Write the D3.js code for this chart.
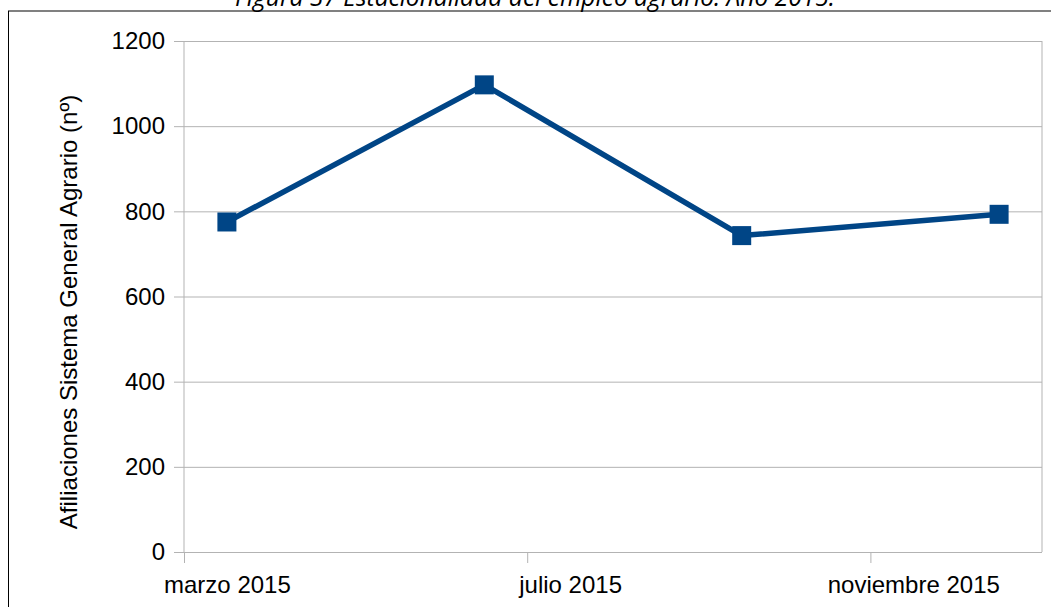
<!DOCTYPE html>
<html>
<head>
<meta charset="utf-8">
<script src="https://cdn.jsdelivr.net/npm/d3@7"></script>
<style>
  html, body { margin: 0; padding: 0; background: #fff; }
  svg { display: block; }
</style>
</head>
<body>
<svg id="chart" width="1051" height="607"></svg>
<script>
// Afiliaciones al Sistema General Agrario, 2015 (datos trimestrales)
const monthIndex = [2, 5, 8, 11];           // marzo, junio, septiembre, diciembre (0 = enero)
const afiliaciones = [775, 1097, 743, 793];
const yTicks = [0, 200, 400, 600, 800, 1000, 1200];
const xTickMonths = [2, 6, 10];
const xTickLabels = ["marzo 2015", "julio 2015", "noviembre 2015"];
const titleText = "Figura 37  Estacionalidad del empleo agrario. Año 2015.";
const yTitle = "Afiliaciones Sistema General Agrario (nº)";

const svg = d3.select("#chart");
const plot = { left: 184, right: 1042, top: 41, bottom: 552 };
const gridColor = "#b3b3b3";
const seriesColor = "#004586";
const font = "'Liberation Sans', Arial, sans-serif";

const x = d3.scaleLinear().domain([2, 12]).range([plot.left, plot.right]);
const y = d3.scaleLinear().domain([0, 1200]).range([plot.bottom, plot.top]);

// outer frame
svg.append("line").attr("x1", 8).attr("x2", 1051).attr("y1", 11).attr("y2", 11)
  .attr("stroke", "#808080").attr("stroke-width", 2);
svg.append("line").attr("x1", 8.5).attr("x2", 8.5).attr("y1", 11).attr("y2", 607)
  .attr("stroke", "#000").attr("stroke-width", 1);

// title
const title = svg.append("text")
  .attr("x", 535).attr("y", 6)
  .attr("text-anchor", "middle")
  .style("font-family", "'Open Sans', 'Noto Sans', sans-serif")
  .style("font-style", "italic")
  .style("font-size", "20px")
  .attr("fill", "#000")
  .text(titleText);
const tw = title.node().getComputedTextLength();
title.style("font-size", (20 * 600 / tw).toFixed(2) + "px");

// horizontal gridlines + y axis
const yAxis = d3.axisLeft(y).tickValues(yTicks).tickSize(10).tickPadding(9)
  .tickFormat(d3.format("d"));
const gY = svg.append("g").attr("transform", `translate(${plot.left},0)`).call(yAxis);
gY.select(".domain").remove();
gY.selectAll(".tick line").attr("stroke", gridColor).attr("x2", -10).attr("x1", plot.right - plot.left);
gY.selectAll(".tick text").style("font-family", font).style("font-size", "24px").attr("fill", "#000");

// x axis (month-start ticks, labels centred in the month)
const xAxis = d3.axisBottom(x).tickValues(xTickMonths).tickSize(11)
  .tickFormat((d, i) => xTickLabels[i]);
const gX = svg.append("g").attr("transform", `translate(0,${plot.bottom})`).call(xAxis);
gX.select(".domain").remove();
gX.selectAll(".tick line").attr("stroke", gridColor);
gX.selectAll(".tick text")
  .attr("x", x(2.5) - x(2))
  .attr("y", 0).attr("dy", null)
  .attr("transform", "translate(0,41)")
  .style("font-family", font).style("font-size", "24px").attr("fill", "#000");

// plot area side borders
svg.append("line").attr("x1", plot.left).attr("x2", plot.left)
  .attr("y1", plot.top).attr("y2", plot.bottom).attr("stroke", gridColor);
svg.append("line").attr("x1", plot.right).attr("x2", plot.right)
  .attr("y1", plot.top).attr("y2", plot.bottom).attr("stroke", gridColor);

// y axis title
svg.append("text")
  .attr("transform", `translate(77,312) rotate(-90)`)
  .attr("text-anchor", "middle")
  .style("font-family", font).style("font-size", "24px").attr("fill", "#000")
  .text(yTitle);

// series
const pts = monthIndex.map((m, i) => ({ m: m + 0.5, v: afiliaciones[i] }));
svg.append("path")
  .datum(pts)
  .attr("fill", "none")
  .attr("stroke", seriesColor)
  .attr("stroke-width", 5.5)
  .attr("stroke-linejoin", "round")
  .attr("d", d3.line().x(d => x(d.m)).y(d => y(d.v)));

const ms = 19;
svg.selectAll("rect.marker").data(pts).join("rect")
  .attr("class", "marker")
  .attr("x", d => x(d.m) - ms / 2).attr("y", d => y(d.v) - ms / 2)
  .attr("width", ms).attr("height", ms)
  .attr("fill", seriesColor);
</script>
</body>
</html>
